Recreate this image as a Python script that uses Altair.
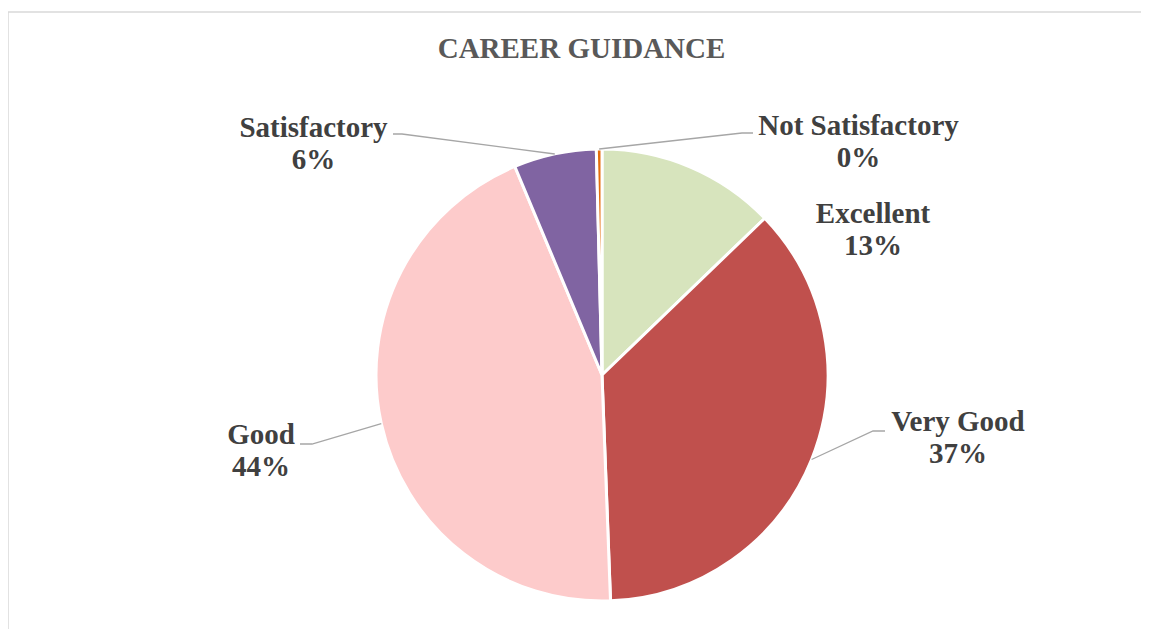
import math
import altair as alt
import pandas as pd

# ---- data ----
categories = ["Excellent", "Very Good", "Good", "Satisfactory", "Not Satisfactory"]
shares = [12.8, 36.6, 44.3, 5.9, 0.4]
colors = ["#D7E4BD", "#C0504D", "#FDCBCB", "#8064A2", "#E46C0A"]
title_text = "CAREER GUIDANCE"

# ---- layout (chart coordinates: page minus origin) ----
OX, OY = 8, 12
CX, CY, R = 602 - OX, 375 - OY, 226
W, H = 1133, 617
FONT = "Liberation Serif"

# label anchor: centre x, first-line baseline y (page coords)
label_pos = {
    "Excellent": (873, 223),
    "Very Good": (958, 431),
    "Good": (261, 444),
    "Satisfactory": (313.5, 137),
    "Not Satisfactory": (858.5, 135),
}
# leader lines: label-side end, elbow (page coords); last point is slice edge
leaders = {
    "Very Good": [(885, 431), (873, 431)],
    "Good": [(300, 444), (312, 444)],
    "Satisfactory": [(393, 134), (402, 134)],
    "Not Satisfactory": [(753, 133), (742, 133)],
}

df = pd.DataFrame({"category": categories, "share": shares, "idx": list(range(len(categories)))})

total = sum(shares)
lab_rows = []
line_rows = []
cum = 0.0
for c, v in zip(categories, shares):
    mid = 2 * math.pi * (cum + v / 2) / total
    cum += v
    ex, ey = CX + R * math.sin(mid), CY - R * math.cos(mid)
    px, py = label_pos[c]
    lab_rows.append({"category": c, "lx": px - OX, "ly": py - OY,
                     "label": f"{c}\n{round(v / total * 100)}%"})
    if c in leaders:
        pts = [(x - OX, y - OY) for x, y in leaders[c]] + [(ex, ey)]
        for k, (x, y) in enumerate(pts):
            line_rows.append({"category": c, "ord": k, "px": x, "py": y})

labels_df = pd.DataFrame(lab_rows)
lines_df = pd.DataFrame(line_rows)

arc = alt.Chart(df).mark_arc(outerRadius=R, stroke="white", strokeWidth=3).encode(
    theta=alt.Theta("share:Q", stack=True),
    color=alt.Color("category:N", scale=alt.Scale(domain=categories, range=colors), legend=None),
    order=alt.Order("idx:Q"),
    x=alt.value(CX),
    y=alt.value(CY),
)

lines = alt.Chart(lines_df).mark_line(color="#A6A6A6", strokeWidth=1.3).encode(
    x=alt.X("px:Q", scale=None, axis=None),
    y=alt.Y("py:Q", scale=None, axis=None),
    detail="category:N",
    order="ord:Q",
)

texts = alt.Chart(labels_df).mark_text(
    lineBreak="\n", align="center", baseline="alphabetic", font=FONT,
    fontSize=29, fontWeight="bold", color="#404040", lineHeight=32,
).encode(
    x=alt.X("lx:Q", scale=None, axis=None),
    y=alt.Y("ly:Q", scale=None, axis=None),
    text="label:N",
)

title = alt.Chart(pd.DataFrame({"t": [title_text]})).mark_text(
    align="center", baseline="alphabetic", font=FONT, fontSize=29,
    fontWeight="bold", color="#595959",
).encode(x=alt.value(581.5 - OX), y=alt.value(58.3 - OY), text="t:N")

border_top = alt.Chart(pd.DataFrame({"a": [0]})).mark_rule(color="#D9D9D9", strokeWidth=1.5).encode(
    x=alt.value(0), x2=alt.value(W), y=alt.value(0))
border_left = alt.Chart(pd.DataFrame({"a": [0]})).mark_rule(color="#D9D9D9", strokeWidth=1.5).encode(
    x=alt.value(0), y=alt.value(0), y2=alt.value(H))

chart = alt.layer(border_top, border_left, arc, lines, texts, title).properties(
    width=W, height=H,
    autosize=alt.AutoSizeParams(type="none"),
    padding={"left": 0, "top": 4, "right": 0, "bottom": 0},
).configure_view(stroke=None)

chart.save("out.html", embed_options={"renderer": "svg", "actions": False})
